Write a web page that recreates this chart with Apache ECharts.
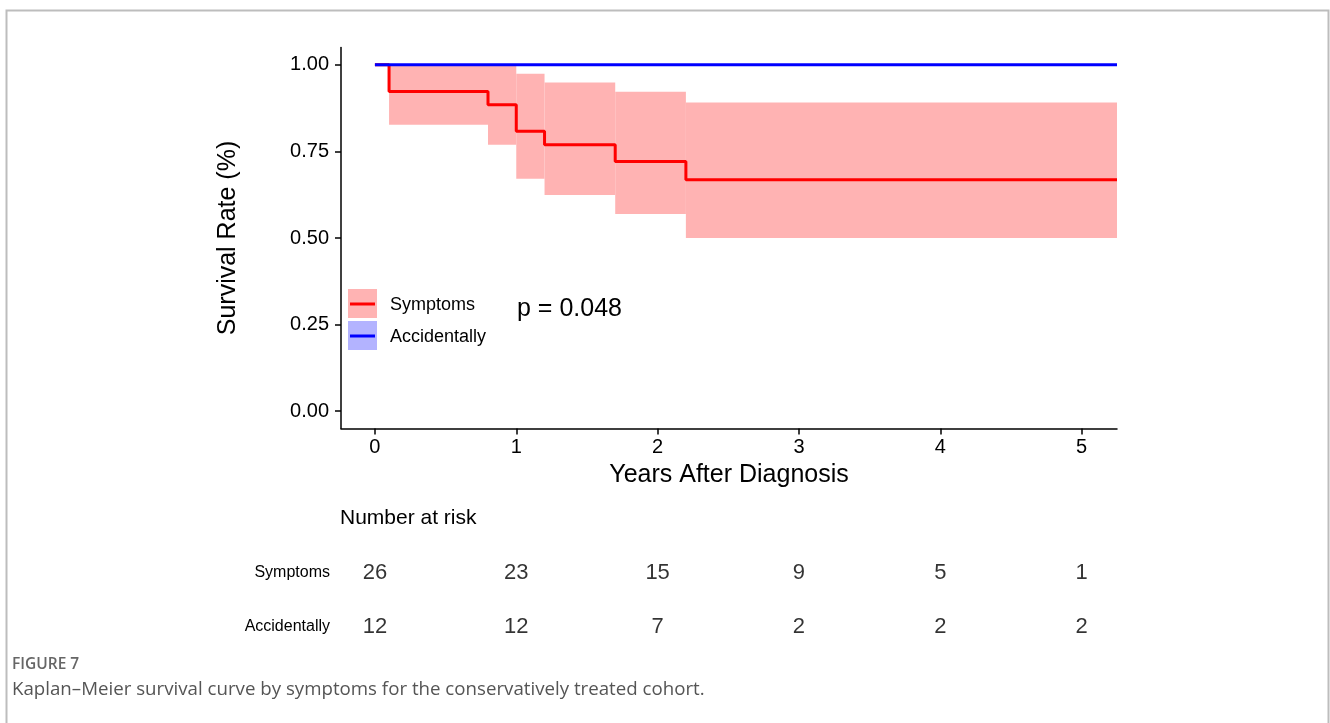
<!DOCTYPE html>
<html>
<head>
<meta charset="utf-8">
<script src="https://cdn.jsdelivr.net/npm/echarts@6/dist/echarts.min.js"></script>
<style>
html,body{margin:0;padding:0;background:#fff;}
#chart{width:1330px;height:723px;}
</style>
</head>
<body>
<div id="chart"></div>
<script>
// ---- data ----
const symTimes = [0, 0.1, 0.8, 1.0, 1.2, 1.7, 2.2, 5.25];
const symSurv  = [1.0, 0.923, 0.885, 0.808, 0.769, 0.721, 0.668, 0.668];
const symUpper = [1.0, 1.0, 1.0, 0.974, 0.949, 0.922, 0.891, 0.891];
const symLower = [1.0, 0.827, 0.769, 0.671, 0.624, 0.569, 0.50, 0.50];
const accTimes = [0, 5.25];
const accSurv  = [1.0, 1.0];
const xTicks = [0, 1, 2, 3, 4, 5];
const yTicks = [0, 0.25, 0.5, 0.75, 1.0];
const riskGroups = ['Symptoms', 'Accidentally'];
const riskTimes = [0, 1, 2, 3, 4, 5];
const riskSymptoms = [26, 23, 15, 9, 5, 1];
const riskAccidentally = [12, 12, 7, 2, 2, 2];

const FONT = 'Liberation Sans, Arial, sans-serif';
const chart = echarts.init(document.getElementById('chart'), null, {renderer: 'canvas'});

const bandData = [];
for (let i = 0; i < symTimes.length - 1; i++) {
  bandData.push([symTimes[i], symTimes[i + 1], symLower[i], symUpper[i]]);
}
const riskData = [];
riskTimes.forEach((t, i) => {
  riskData.push([t, riskGroups[0], riskSymptoms[i]]);
  riskData.push([t, riskGroups[1], riskAccidentally[i]]);
});

const GL = 341, GW = 776;

const option = {
  backgroundColor: '#fff',
  animation: false,
  grid: [
    {left: GL, top: 47.5, width: GW, height: 381},
    {left: GL, top: 546, width: GW, height: 108}
  ],
  xAxis: [
    {
      type: 'value', gridIndex: 0, min: -0.24, max: 5.25,
      name: 'Years After Diagnosis', nameLocation: 'middle', nameGap: 33,
      nameTextStyle: {fontFamily: FONT, fontSize: 25, color: '#000'},
      axisLine: {show: true, onZero: false, lineStyle: {color: '#000', width: 1.5}},
      axisTick: {show: true, length: 6, lineStyle: {color: '#000', width: 1.5}, customValues: xTicks},
      axisLabel: {fontFamily: FONT, fontSize: 20, color: '#000', margin: 9, customValues: xTicks,
                  formatter: v => String(v)},
      splitLine: {show: false}
    },
    {
      type: 'value', gridIndex: 1, min: -0.24, max: 5.25, show: false
    }
  ],
  yAxis: [
    {
      type: 'value', gridIndex: 0, min: -0.05, max: 1.05,
      name: 'Survival Rate (%)', nameLocation: 'middle', nameGap: 100,
      nameTextStyle: {fontFamily: FONT, fontSize: 25, color: '#000'},
      axisLine: {show: true, onZero: false, lineStyle: {color: '#000', width: 1.5}},
      axisTick: {show: true, length: 6, lineStyle: {color: '#000', width: 1.5}, customValues: yTicks},
      axisLabel: {fontFamily: FONT, fontSize: 20, color: '#000', margin: 12, customValues: yTicks,
                  formatter: v => v.toFixed(2)},
      splitLine: {show: false}
    },
    {
      type: 'category', gridIndex: 1, data: riskGroups, inverse: true,
      axisLine: {show: false}, axisTick: {show: false},
      axisLabel: {fontFamily: FONT, fontSize: 16, color: '#000', margin: 11}
    }
  ],
  series: [
    {
      type: 'custom', xAxisIndex: 0, yAxisIndex: 0, data: bandData, z: 1,
      renderItem: function (params, api) {
        const p0 = api.coord([api.value(0), api.value(3)]);
        const p1 = api.coord([api.value(1), api.value(2)]);
        return {type: 'rect', shape: {x: p0[0], y: p0[1], width: p1[0] - p0[0], height: p1[1] - p0[1]},
                style: {fill: '#ffb3b3'}};
      }
    },
    {
      type: 'line', xAxisIndex: 0, yAxisIndex: 0, step: 'end', showSymbol: false, z: 3,
      data: symTimes.map((t, i) => [t, symSurv[i]]),
      lineStyle: {color: '#ff0000', width: 3}
    },
    {
      type: 'line', xAxisIndex: 0, yAxisIndex: 0, step: 'end', showSymbol: false, z: 4,
      data: accTimes.map((t, i) => [t, accSurv[i]]),
      lineStyle: {color: '#0000ff', width: 3}
    },
    {
      type: 'scatter', xAxisIndex: 1, yAxisIndex: 1, symbolSize: 0, data: riskData,
      label: {show: true, position: 'inside', formatter: p => String(p.value[2]),
              fontFamily: FONT, fontSize: 22, color: '#000', textBorderWidth: 0}
    }
  ],
  graphic: [
    // figure frame
    {type: 'polyline', shape: {points: [[6.5, 723], [6.5, 10.5], [1328.5, 10.5], [1328.5, 723]]},
     style: {stroke: '#bdbdbd', lineWidth: 2, fill: null}},
    // legend
    {type: 'rect', shape: {x: 348, y: 289, width: 29, height: 29}, style: {fill: '#ffb3b3'}},
    {type: 'line', shape: {x1: 350, y1: 304, x2: 375, y2: 304}, style: {stroke: '#ff0000', lineWidth: 3}},
    {type: 'rect', shape: {x: 348, y: 321, width: 29, height: 29}, style: {fill: '#b3b3ff'}},
    {type: 'line', shape: {x1: 350, y1: 336, x2: 375, y2: 336}, style: {stroke: '#0000ff', lineWidth: 3}},
    {type: 'text', x: 390, y: 305, style: {text: 'Symptoms', font: '18px ' + FONT, fill: '#000', verticalAlign: 'middle'}},
    {type: 'text', x: 390, y: 337, style: {text: 'Accidentally', font: '18px ' + FONT, fill: '#000', verticalAlign: 'middle'}},
    {type: 'text', x: 517, y: 309, style: {text: 'p = 0.048', font: '25px ' + FONT, fill: '#000', verticalAlign: 'middle'}},
    // risk table title
    {type: 'text', x: 340, y: 518, style: {text: 'Number at risk', font: '21px ' + FONT, fill: '#000', verticalAlign: 'middle'}},
    // caption
    {type: 'text', x: 12, y: 665, style: {text: 'FIGURE 7', font: '600 15.5px "Open Sans", sans-serif', fill: '#666', verticalAlign: 'middle'}},
    {type: 'text', x: 12, y: 690, style: {text: 'Kaplan\u2013Meier survival curve by symptoms for the conservatively treated cohort.', font: '18.7px "Open Sans", sans-serif', fill: '#555', verticalAlign: 'middle'}}
  ]
};
chart.setOption(option);
</script>
</body>
</html>
